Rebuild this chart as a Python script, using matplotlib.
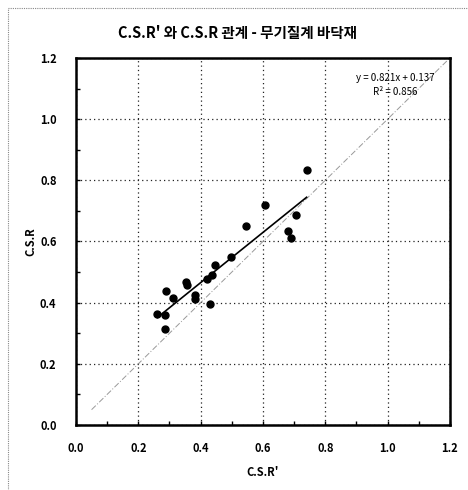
import matplotlib
matplotlib.use("Agg")
import matplotlib.pyplot as plt
import matplotlib.patches as mpatches
import numpy as np

plt.rcParams['font.family'] = ['Noto Sans CJK KR', 'DejaVu Sans']

# measured points (C.S.R', C.S.R)
csr_prime = [0.740, 0.605, 0.544, 0.706, 0.680, 0.691, 0.496, 0.446, 0.438,
             0.419, 0.354, 0.355, 0.290, 0.310, 0.381, 0.381, 0.430, 0.261,
             0.285, 0.285]
csr = [0.834, 0.720, 0.652, 0.686, 0.635, 0.611, 0.550, 0.522, 0.492,
       0.478, 0.468, 0.458, 0.437, 0.415, 0.426, 0.411, 0.395, 0.364,
       0.359, 0.315]

slope = 0.821
intercept = 0.137
r_squared = 0.856
ref_line = [0.05, 1.2]

title = "C.S.R' 와 C.S.R 관계 - 무기질계 바닥재"
ticks = [0.0, 0.2, 0.4, 0.6, 0.8, 1.0, 1.2]

fig = plt.figure(figsize=(4.68, 4.90), dpi=100)
ax = fig.add_axes([0.1624, 0.1327, 0.799, 0.749])

# outer chart area border (dotted)
fig.patches.append(mpatches.Rectangle((8 / 468, -0.1), 1.2, 1 - 8 / 490 + 0.1,
                                      transform=fig.transFigure, fill=False,
                                      edgecolor="#888888", linestyle=(0, (1, 1)),
                                      linewidth=0.8))

ax.plot(ref_line, ref_line, color="#999999", linewidth=0.7,
        linestyle=(0, (6, 2, 1, 2)), zorder=2)

xs = np.array([min(csr_prime), max(csr_prime)])
ax.plot(xs, slope * xs + intercept, color="black", linewidth=1.2, zorder=3)

ax.plot(csr_prime, csr, "o", color="black", markersize=5, zorder=4)

ax.set_xlim(0, 1.2)
ax.set_ylim(0, 1.2)
ax.set_xticks(ticks)
ax.set_yticks(ticks)
ax.set_xticklabels([f"{t:.1f}" for t in ticks], fontweight="bold", fontsize=8)
ax.set_yticklabels([f"{t:.1f}" for t in ticks], fontweight="bold", fontsize=8)
ax.set_xticks(np.arange(0.1, 1.2, 0.2), minor=True)
ax.set_yticks(np.arange(0.1, 1.2, 0.2), minor=True)
ax.tick_params(which="both", direction="in", length=3, width=1)
ax.tick_params(axis="x", pad=12)
ax.tick_params(axis="y", pad=14)

ax.grid(True, which="major", color="#222222", linestyle=(0, (1, 2.5)), linewidth=0.9)
for spine in ax.spines.values():
    spine.set_linewidth(1.8)
    spine.set_color("black")

ax.set_xlabel("C.S.R'", fontweight="bold", fontsize=8, labelpad=8)
ax.set_ylabel("C.S.R", fontweight="bold", fontsize=8, labelpad=2)

fig.text(0.507, 0.933, title, ha="center", va="center",
         fontsize=10.5, fontweight="bold")

ax.text(0.853, 0.945, f"y = {slope}x + {intercept}", transform=ax.transAxes,
        ha="center", va="center", fontsize=7)
ax.text(0.853, 0.908, f"R² = {r_squared}", transform=ax.transAxes,
        ha="center", va="center", fontsize=7)

fig.savefig("out.png", dpi=100)
